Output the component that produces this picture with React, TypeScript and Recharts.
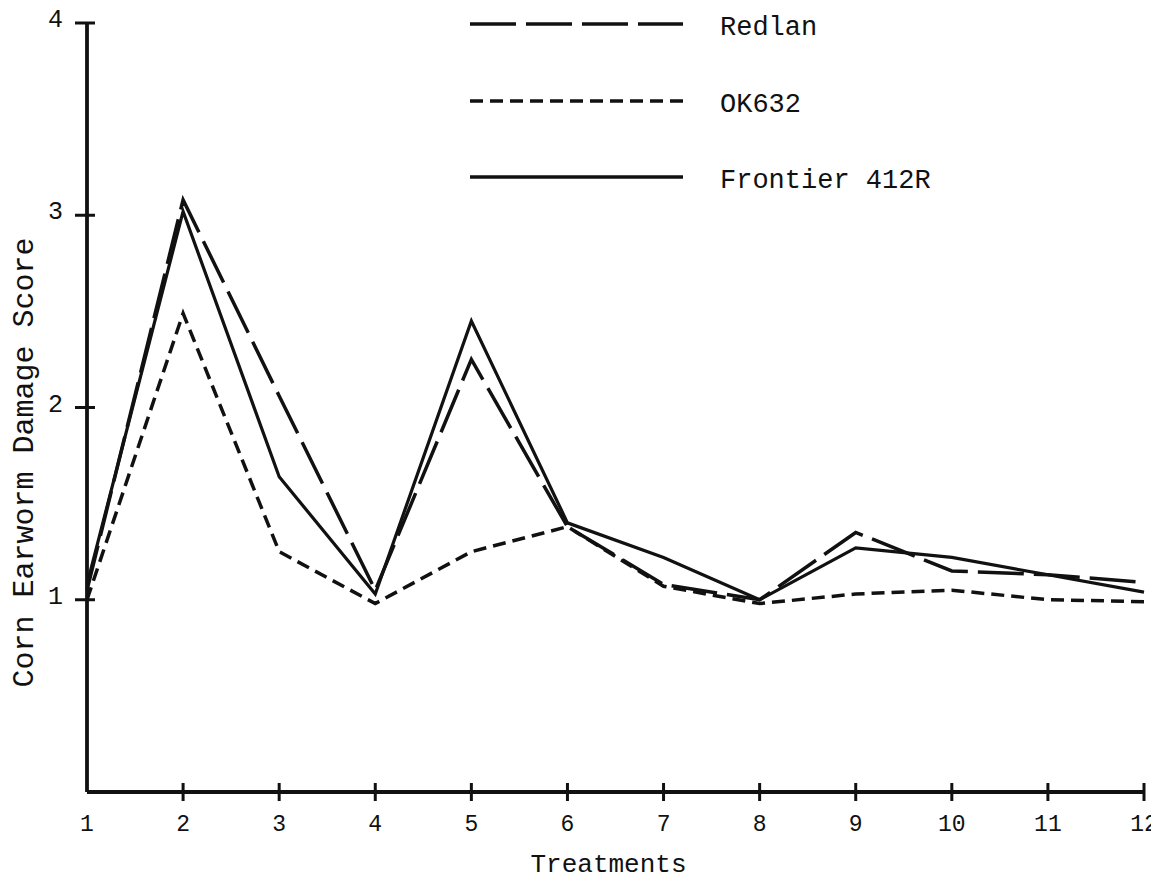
import React from 'react';
import { LineChart, Line, XAxis, YAxis, Legend } from 'recharts';

// Treatment numbers along the horizontal axis
const treatments = [1, 2, 3, 4, 5, 6, 7, 8, 9, 10, 11, 12];

// Mean corn earworm damage score per treatment, one array per hybrid
const redlan = [1.05, 3.08, 2.06, 1.05, 2.25, 1.38, 1.08, 1.0, 1.35, 1.15, 1.13, 1.09];
const ok632 = [1.0, 2.49, 1.25, 0.98, 1.25, 1.38, 1.07, 0.98, 1.03, 1.05, 1.0, 0.99];
const frontier412R = [1.08, 3.02, 1.64, 1.03, 2.45, 1.4, 1.22, 1.0, 1.27, 1.22, 1.13, 1.04];

const scoreTicks = [1, 2, 3, 4];
const seriesNames = ['Redlan', 'OK632', 'Frontier 412R'];
const xTitle = 'Treatments';
const yTitle = 'Corn Earworm Damage Score';

const data = treatments.map((t, i) => ({
  t,
  redlan: redlan[i],
  ok632: ok632[i],
  frontier: frontier412R[i],
}));

const FONT = '"Liberation Mono", "Courier New", monospace';
const INK = '#111';
const DASHES = ['46 10', '13 7', undefined];

const XTick = (props: any) => {
  const { x, y, payload } = props;
  return (
    <g>
      {payload.value !== 1 && (
        <line x1={x} x2={x} y1={y - 9} y2={y + 9} stroke={INK} strokeWidth={3} />
      )}
      <text x={x} y={y + 39} textAnchor="middle" fontFamily={FONT} fontSize={23} fill={INK}>
        {payload.value}
      </text>
    </g>
  );
};

const YTick = (props: any) => {
  const { x, y, payload } = props;
  return (
    <g>
      <line x1={x - 12} x2={x + 8} y1={y} y2={y} stroke={INK} strokeWidth={3} />
      <text x={x - 24} y={y + 4} textAnchor="end" fontFamily={FONT} fontSize={25} fill={INK}>
        {payload.value}
      </text>
    </g>
  );
};

const LegendBox = () => {
  const rows = [24, 101, 177];
  return (
    <svg width={700} height={200} style={{ overflow: 'visible' }}>
      {seriesNames.map((name, i) => (
        <g key={name}>
          <line
            x1={0}
            x2={213}
            y1={rows[i]}
            y2={rows[i]}
            stroke={INK}
            strokeWidth={3.4}
            strokeDasharray={DASHES[i]}
          />
          <text x={250} y={rows[i] + 11} fontFamily={FONT} fontSize={27} fill={INK}>
            {name}
          </text>
        </g>
      ))}
    </svg>
  );
};

export default function App() {
  return (
    <div style={{ background: '#fff', width: 1159, height: 880, margin: '-8px 0 0 -8px' }}>
      <LineChart
        width={1159}
        height={880}
        data={data}
        margin={{ top: 23, right: 15, left: 27, bottom: 28 }}
      >
        <XAxis
          dataKey="t"
          type="number"
          domain={[1, 12]}
          ticks={treatments}
          interval={0}
          height={60}
          axisLine={{ stroke: INK, strokeWidth: 3.8 }}
          tickLine={false}
          tickSize={0}
          tickMargin={0}
          tick={<XTick />}
          label={{
            content: (p: any) => {
              const vb = p.viewBox;
              return (
                <text
                  x={vb.x + vb.width / 2 - 7}
                  y={vb.y + 80}
                  textAnchor="middle"
                  fontFamily={FONT}
                  fontSize={26}
                  fill={INK}
                >
                  {xTitle}
                </text>
              );
            },
          }}
        />
        <YAxis
          type="number"
          domain={[0, 4]}
          ticks={scoreTicks}
          interval={0}
          width={60}
          axisLine={{ stroke: INK, strokeWidth: 3.8 }}
          tickLine={false}
          tickSize={0}
          tickMargin={0}
          tick={<YTick />}
          label={{
            content: (p: any) => {
              const vb = p.viewBox;
              const cx = vb.x - 2;
              const cy = vb.y + vb.height / 2 + 55;
              return (
                <text
                  transform={`translate(${cx},${cy}) rotate(-90)`}
                  textAnchor="middle"
                  dominantBaseline="central"
                  fontFamily={FONT}
                  fontSize={30}
                  fill={INK}
                >
                  {yTitle}
                </text>
              );
            },
          }}
        />
        <Legend
          layout="horizontal"
          verticalAlign="middle"
          align="center"
          wrapperStyle={{ position: 'absolute', top: 0, left: 470, width: 700, height: 200 }}
          content={() => <LegendBox />}
        />
        <Line
          dataKey="ok632"
          name={seriesNames[1]}
          type="linear"
          stroke={INK}
          strokeWidth={3.5}
          strokeDasharray={DASHES[1]}
          dot={false}
          activeDot={false}
          isAnimationActive={false}
        />
        <Line
          dataKey="redlan"
          name={seriesNames[0]}
          type="linear"
          stroke={INK}
          strokeWidth={3.5}
          strokeDasharray={DASHES[0]}
          dot={false}
          activeDot={false}
          isAnimationActive={false}
        />
        <Line
          dataKey="frontier"
          name={seriesNames[2]}
          type="linear"
          stroke={INK}
          strokeWidth={3.2}
          dot={false}
          activeDot={false}
          isAnimationActive={false}
        />
      </LineChart>
    </div>
  );
}
